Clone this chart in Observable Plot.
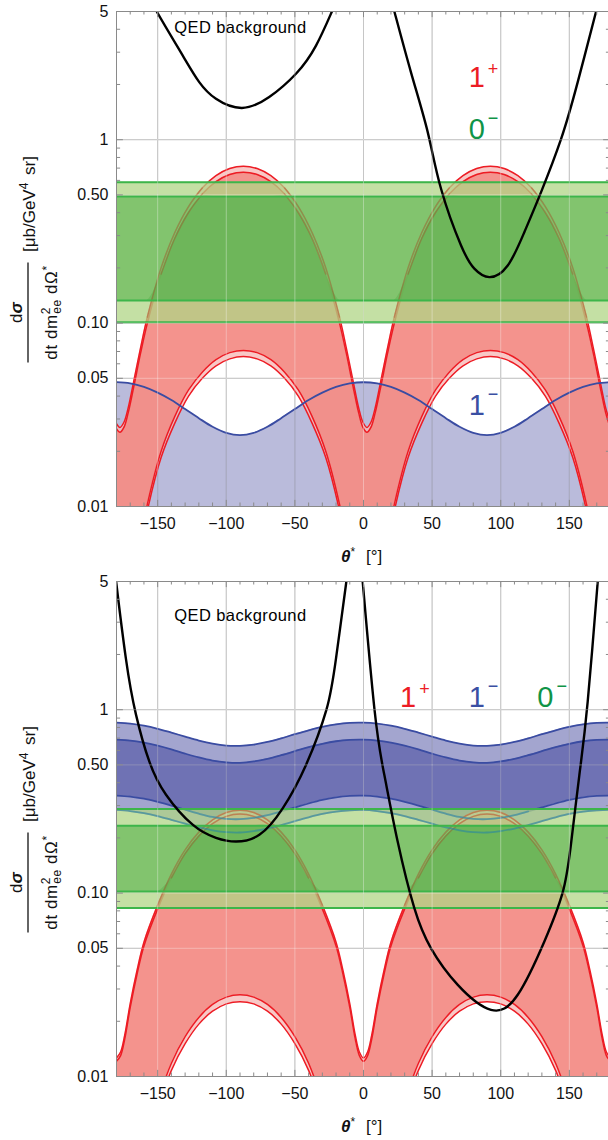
<!DOCTYPE html>
<html><head><meta charset="utf-8">
<script src="https://cdn.jsdelivr.net/npm/d3@7"></script>
<script src="https://cdn.jsdelivr.net/npm/@observablehq/plot@0.6"></script>
<style>html,body{margin:0;padding:0;background:#fff;width:608px;overflow:hidden} svg{display:block}</style>
</head><body><div id="chart"></div>
<script>
const FONT = "'Liberation Sans', Arial, Helvetica, sans-serif";
const X_DOMAIN = [-180, 180];
const Y_DOMAIN = [0.01, 5];
const xGrid = [-150, -100, -50, 0, 50, 100, 150];
const yGrid = [0.05, 0.1, 0.5, 1];
const yTicks = [0.01, 0.05, 0.1, 0.5, 1, 5];
const yTickLabels = ["0.01", "0.05", "0.10", "0.50", "1", "5"];
const yMinor = [0.02, 0.03, 0.04, 0.06, 0.07, 0.08, 0.09, 0.2, 0.3, 0.4, 0.6, 0.7, 0.8, 0.9, 2, 3, 4];
const xMinor = [-170,-160,-140,-130,-120,-110,-90,-80,-70,-60,-40,-30,-20,-10,10,20,30,40,60,70,80,90,110,120,130,140,160,170];

// ---------- Panel 1 (top) ----------
const theta1 = [-180,-177.5,-174.5,-171.5,-167.5,-162.5,-157.5,-147.5,-137.5,-127.5,-117.5,-107.5,-97.5,-87.5,-77.5,-67.5,-57.5,-47.5,-37.5,-27.5,-17.5,-12.5,-7.5,-3.5,-0.5,2.5,5.5,8.5,12.5,17.5,22.5,32.5,42.5,52.5,62.5,72.5,82.5,92.5,102.5,112.5,122.5,132.5,142.5,152.5,162.5,167.5,172.5,176.5,180];
const red1UpperOuter = [0.0283,0.027,0.0289,0.0345,0.048,0.073,0.108,0.2,0.312,0.432,0.545,0.636,0.696,0.717,0.696,0.636,0.545,0.432,0.312,0.2,0.108,0.073,0.048,0.0345,0.0289,0.027,0.0289,0.0345,0.048,0.073,0.108,0.2,0.312,0.432,0.545,0.636,0.696,0.717,0.696,0.636,0.545,0.432,0.312,0.2,0.108,0.073,0.048,0.0345,0.0283];
const red1UpperInner = [0.0266,0.0254,0.0271,0.0324,0.0447,0.0683,0.1,0.185,0.29,0.401,0.505,0.59,0.646,0.665,0.646,0.59,0.505,0.401,0.29,0.185,0.1,0.0683,0.0447,0.0324,0.0271,0.0254,0.0271,0.0324,0.0447,0.0683,0.1,0.185,0.29,0.401,0.505,0.59,0.646,0.665,0.646,0.59,0.505,0.401,0.29,0.185,0.1,0.0683,0.0447,0.0324,0.0266];
const red1LowerOuter = [0.0011,0.0006,0.0012,0.002,0.0033,0.006,0.0095,0.0185,0.0285,0.04,0.05,0.0585,0.0638,0.0657,0.0638,0.0585,0.05,0.04,0.0285,0.0185,0.0095,0.006,0.0033,0.002,0.0012,0.0006,0.0012,0.002,0.0033,0.006,0.0095,0.0185,0.0285,0.04,0.05,0.0585,0.0638,0.0657,0.0638,0.0585,0.05,0.04,0.0285,0.0185,0.0095,0.006,0.0033,0.002,0.0011];
const red1LowerInner = [0.0012,0.0007,0.0013,0.0022,0.0036,0.0066,0.0103,0.02,0.031,0.0432,0.054,0.0632,0.069,0.071,0.069,0.0632,0.054,0.0432,0.031,0.02,0.0103,0.0066,0.0036,0.0022,0.0013,0.0007,0.0013,0.0022,0.0036,0.0066,0.0103,0.02,0.031,0.0432,0.054,0.0632,0.069,0.071,0.069,0.0632,0.054,0.0432,0.031,0.02,0.0103,0.0066,0.0036,0.0022,0.0012];
const thetaB = [-180,-170,-160,-150,-140,-130,-120,-110,-100,-90,-80,-70,-60,-50,-40,-30,-20,-10,0,10,20,30,40,50,60,70,80,90,100,110,120,130,140,150,160,170,180];
const blue1 = [0.0476,0.0469,0.0449,0.0418,0.0381,0.034,0.0303,0.0272,0.0252,0.0245,0.0252,0.0272,0.0303,0.034,0.0381,0.0418,0.0449,0.0469,0.0476,0.0469,0.0449,0.0418,0.0381,0.034,0.0303,0.0272,0.0252,0.0245,0.0252,0.0272,0.0303,0.034,0.0381,0.0418,0.0449,0.0469,0.0476];
const green1 = [0.101, 0.133, 0.49, 0.586];
const qed1LeftTheta = [-155,-150.7,-131.8,-119.7,-107.5,-88.6,-68.7,-49.2,-34.6,-23,-19];
const qed1LeftValue = [5.9,5,2.88,2.06,1.67,1.49,1.71,2.29,3.26,5,5.8];
const qed1RightTheta = [18,22.5,34.6,46.8,56.5,71.1,80.8,91.7,105.1,117.2,129.4,144,156.1,169.5,173];
const qed1RightValue = [6.6,5,2.33,1.1,0.54,0.265,0.198,0.178,0.206,0.313,0.518,1.01,2.06,5,6.3];

// ---------- Panel 2 (bottom) ----------
const theta2 = [-180,-177,-174,-170,-165,-160,-150,-140,-130,-120,-110,-100,-90,-80,-70,-60,-50,-40,-30,-20,-15,-10,-6,-3,0,3,6,10,15,20,30,40,50,60,70,80,90,100,110,120,130,140,150,160,165,170,174,177,180];
const red2UpperOuter = [0.0126,0.0136,0.0168,0.025,0.038,0.054,0.086,0.127,0.172,0.215,0.251,0.275,0.283,0.275,0.251,0.215,0.172,0.127,0.086,0.054,0.038,0.025,0.0168,0.0136,0.0126,0.0136,0.0168,0.025,0.038,0.054,0.086,0.127,0.172,0.215,0.251,0.275,0.283,0.275,0.251,0.215,0.172,0.127,0.086,0.054,0.038,0.025,0.0168,0.0136,0.0126];
const red2UpperInner = [0.0121,0.013,0.016,0.0238,0.0362,0.0515,0.082,0.121,0.164,0.205,0.239,0.262,0.27,0.262,0.239,0.205,0.164,0.121,0.082,0.0515,0.0362,0.0238,0.016,0.013,0.0121,0.013,0.016,0.0238,0.0362,0.0515,0.082,0.121,0.164,0.205,0.239,0.262,0.27,0.262,0.239,0.205,0.164,0.121,0.082,0.0515,0.0362,0.0238,0.016,0.013,0.0121];
const red2LowerOuter = [0.0002,0.0003,0.0005,0.0008,0.0018,0.0031,0.0066,0.0108,0.0151,0.0193,0.0227,0.0249,0.0256,0.0249,0.0227,0.0193,0.0151,0.0108,0.0066,0.0031,0.0018,0.0008,0.0005,0.0003,0.0002,0.0003,0.0005,0.0008,0.0018,0.0031,0.0066,0.0108,0.0151,0.0193,0.0227,0.0249,0.0256,0.0249,0.0227,0.0193,0.0151,0.0108,0.0066,0.0031,0.0018,0.0008,0.0005,0.0003,0.0002];
const red2LowerInner = [0.0002,0.0003,0.0005,0.0009,0.002,0.0034,0.0072,0.0118,0.0165,0.021,0.0247,0.0271,0.0279,0.0271,0.0247,0.021,0.0165,0.0118,0.0072,0.0034,0.002,0.0009,0.0005,0.0003,0.0002,0.0003,0.0005,0.0009,0.002,0.0034,0.0072,0.0118,0.0165,0.021,0.0247,0.0271,0.0279,0.0271,0.0247,0.021,0.0165,0.0118,0.0072,0.0034,0.002,0.0009,0.0005,0.0003,0.0002];
const blue2Line1 = [0.85,0.84,0.818,0.787,0.75,0.713,0.679,0.653,0.637,0.635,0.645,0.667,0.698,0.735,0.772,0.806,0.832,0.848,0.85,0.84,0.818,0.787,0.75,0.713,0.679,0.653,0.637,0.635,0.645,0.667,0.698,0.735,0.772,0.806,0.832,0.848,0.85];
const blue2Line2 = [0.687,0.679,0.661,0.636,0.607,0.576,0.549,0.528,0.516,0.513,0.522,0.54,0.565,0.594,0.625,0.652,0.673,0.685,0.687,0.679,0.661,0.636,0.607,0.576,0.549,0.528,0.516,0.513,0.522,0.54,0.565,0.594,0.625,0.652,0.673,0.685,0.687];
const blue2Line3 = [0.34,0.336,0.327,0.314,0.3,0.285,0.271,0.26,0.254,0.253,0.257,0.266,0.279,0.293,0.308,0.322,0.333,0.339,0.34,0.336,0.327,0.314,0.3,0.285,0.271,0.26,0.254,0.253,0.257,0.266,0.279,0.293,0.308,0.322,0.333,0.339,0.34];
const blue2Line4 = [0.284,0.28,0.273,0.263,0.251,0.239,0.228,0.22,0.215,0.214,0.218,0.225,0.235,0.247,0.259,0.27,0.278,0.283,0.284,0.28,0.273,0.263,0.251,0.239,0.228,0.22,0.215,0.214,0.218,0.225,0.235,0.247,0.259,0.27,0.278,0.283,0.284];
const green2 = [0.083, 0.102, 0.233, 0.287];
const qed2LeftTheta = [-181,-180,-173.2,-165.8,-156.1,-143.9,-124.5,-107.5,-92.9,-75.9,-58.9,-41.9,-27,-20,-12.8,-12];
const qed2LeftValue = [5.6,4.8,1.91,0.94,0.522,0.344,0.236,0.2,0.191,0.208,0.29,0.5,1.0,1.91,4.8,5.5];
const qed2RightTheta = [-1.5,-0.6,7.9,15.2,24.9,37,49.2,68.7,92.9,112.4,131.8,145,151,157.3,163.4,170.7,171.5];
const qed2RightValue = [5.8,5,1.02,0.44,0.191,0.083,0.05,0.0316,0.0231,0.0279,0.0545,0.1,0.18,0.44,1.11,5,5.7];

// ---------- Labels ----------
const qedLabel = "QED background";
const panel1Labels = [
  {main: "1", sup: "+", color: "#ec1c24", t: 77, v: 1.93},
  {main: "0", sup: "\u2212", color: "#0f9447", t: 77, v: 1.0},
  {main: "1", sup: "\u2212", color: "#3a4fa3", t: 77, v: 0.0313}
];
const panel2Labels = [
  {main: "1", sup: "+", color: "#ec1c24", t: 27, v: 1.03},
  {main: "1", sup: "\u2212", color: "#3a4fa3", t: 77, v: 1.03},
  {main: "0", sup: "\u2212", color: "#0f9447", t: 127, v: 1.03}
];

const RED_LINE = "#ed1c24", RED_OUT = "#f6bab8", RED_IN = "#f3867e";
const BLUE = "#2e3192", BLUE_LINE = "#3a4ca2";
const GREEN_OUT = "#b0d686", GREEN_IN = "#6fbc5f", GREEN_DEEP = "#2f9a2a", GREEN_LINE = "#3db54a";
const GRID = "#a8a8a8", FRAME = "#8a8a8a";

function buildPanel(p) {
  const curve = "catmull-rom";
  const g = p.green;
  const inGreen = v => (v >= g[0] && v <= g[3]) ? v : NaN;
  const red = p.theta.map((t, i) => ({t, uo: p.uo[i], ui: p.ui[i], lo: p.lo[i], li: p.li[i]}));
  // overlap of the inner 1+ band with the inner 0- band (shown darker green)
  const overlap = red.map(d => {
    const a = Math.max(d.li, g[1]), b = Math.min(d.ui, g[2]);
    return {t: d.t, a, b: Math.max(a, b)};
  });
  const blue = thetaB.map((t, i) => { const o = {t}; p.blue.forEach((arr, k) => o["b" + k] = arr[i]); return o; });
  const marks = [];
  marks.push(Plot.ruleX(xGrid, {stroke: GRID, strokeWidth: 1}));
  marks.push(Plot.ruleY(yGrid, {stroke: GRID, strokeWidth: 1}));
  if (p.blue.length === 1) {
    marks.push(Plot.areaY(blue, {x: "t", y1: Y_DOMAIN[0], y2: "b0", fill: BLUE, fillOpacity: 0.33, curve, clip: true}));
  } else {
    marks.push(Plot.areaY(blue, {x: "t", y1: "b3", y2: "b0", fill: BLUE, fillOpacity: 0.44, curve, clip: true}));
    marks.push(Plot.areaY(blue, {x: "t", y1: "b2", y2: "b1", fill: BLUE, fillOpacity: 0.44, curve, clip: true}));
  }
  marks.push(Plot.areaY(red, {x: "t", y1: "lo", y2: "uo", fill: RED_OUT, fillOpacity: 0.8, curve, clip: true}));
  marks.push(Plot.areaY(red, {x: "t", y1: "li", y2: "ui", fill: RED_IN, fillOpacity: 0.8, curve, clip: true}));
  for (const k of ["uo", "ui", "lo", "li"]) marks.push(Plot.lineY(red, {x: "t", y: k, stroke: RED_LINE, strokeWidth: 1.5, curve, clip: true}));
  p.blue.forEach((_, k) => marks.push(Plot.lineY(blue, {x: "t", y: "b" + k, stroke: BLUE_LINE, strokeWidth: 1.8, curve, clip: true})));
  marks.push(Plot.areaY(X_DOMAIN, {x: d => d, y1: g[0], y2: g[3], fill: GREEN_OUT, fillOpacity: 0.75}));
  marks.push(Plot.areaY(X_DOMAIN, {x: d => d, y1: g[1], y2: g[2], fill: GREEN_IN, fillOpacity: 0.78}));
  marks.push(Plot.areaY(overlap, {x: "t", y1: "a", y2: "b", fill: GREEN_DEEP, fillOpacity: 0.22, curve, clip: true}));
  // faint traces of the curves seen through the green band
  for (const k of ["uo", "ui"]) marks.push(Plot.lineY(red, {x: "t", y: d => inGreen(d[k]), stroke: "#b0301c", strokeOpacity: 0.3, strokeWidth: 1.5, curve, clip: true}));
  p.blue.forEach((_, k) => marks.push(Plot.lineY(blue, {x: "t", y: d => inGreen(d["b" + k]), stroke: "#1f7fb0", strokeOpacity: 0.5, strokeWidth: 1.8, curve, clip: true})));
  marks.push(Plot.ruleY(g, {stroke: GREEN_LINE, strokeWidth: 2}));
  p.qed.forEach(seg => marks.push(Plot.line(seg.t.map((t, i) => [t, seg.v[i]]), {stroke: "black", strokeWidth: 2.4, curve: "natural", clip: true})));
  marks.push(Plot.ruleX(xGrid, {stroke: "white", strokeOpacity: 0.35, strokeWidth: 1}));
  marks.push(Plot.ruleY(yGrid, {stroke: "white", strokeOpacity: 0.35, strokeWidth: 1}));
  marks.push(Plot.frame({stroke: FRAME, strokeWidth: 1}));
  // inward ticks
  const TXM = 1.08, TXm = 1.045, TYM = 5, TYm = 3;
  marks.push(Plot.ruleX(xGrid, {x: d => d, y1: Y_DOMAIN[0], y2: Y_DOMAIN[0] * TXM, stroke: FRAME}));
  marks.push(Plot.ruleX(xMinor, {x: d => d, y1: Y_DOMAIN[0], y2: Y_DOMAIN[0] * TXm, stroke: FRAME}));
  marks.push(Plot.ruleX(xGrid, {x: d => d, y1: Y_DOMAIN[1], y2: Y_DOMAIN[1] / TXM, stroke: FRAME}));
  marks.push(Plot.ruleX(xMinor, {x: d => d, y1: Y_DOMAIN[1], y2: Y_DOMAIN[1] / TXm, stroke: FRAME}));
  marks.push(Plot.ruleY(yTicks, {y: d => d, x1: X_DOMAIN[0], x2: X_DOMAIN[0] + TYM, stroke: FRAME}));
  marks.push(Plot.ruleY(yMinor, {y: d => d, x1: X_DOMAIN[0], x2: X_DOMAIN[0] + TYm, stroke: FRAME}));
  marks.push(Plot.ruleY(yTicks, {y: d => d, x1: X_DOMAIN[1], x2: X_DOMAIN[1] - TYM, stroke: FRAME}));
  marks.push(Plot.ruleY(yMinor, {y: d => d, x1: X_DOMAIN[1], x2: X_DOMAIN[1] - TYm, stroke: FRAME}));
  marks.push(Plot.axisX(xGrid, {tickSize: 0, tickPadding: 11, label: null, fontSize: 16, tickFormat: d => d < 0 ? "\u2212" + Math.abs(d) : String(d)}));
  marks.push(Plot.axisY(yTicks, {tickSize: 0, tickPadding: 8, label: null, fontSize: 16, tickFormat: d => yTickLabels[yTicks.indexOf(d)]}));

  const svg = Plot.plot({
    width: 608, height: 570,
    marginTop: 11, marginBottom: 64, marginLeft: 116, marginRight: -2,
    style: {fontFamily: FONT, fontSize: "16px", color: "#111", background: "white"},
    x: {domain: X_DOMAIN},
    y: {type: "log", domain: Y_DOMAIN},
    marks
  });

  const sx = svg.scale("x"), sy = svg.scale("y");
  const s = d3.select(svg);
  s.append("text").attr("x", sx.apply(-137.5)).attr("y", sy.apply(p.qedY)).attr("text-anchor", "start")
    .attr("font-family", FONT).attr("font-size", 16.5).attr("letter-spacing", 0.4).attr("fill", "#000").text(qedLabel);
  p.labels.forEach(l => {
    const t = s.append("text").attr("x", sx.apply(l.t)).attr("y", sy.apply(l.v)).attr("text-anchor", "start")
      .attr("font-family", FONT).attr("font-size", 29).attr("fill", l.color);
    t.append("tspan").text(l.main);
    t.append("tspan").attr("font-size", 18).attr("dx", 3).attr("dy", l.sup === "+" ? -12 : -15).text(l.sup);
  });
  // y-axis label
  const g1 = s.append("g").attr("transform", "translate(0,312.5) rotate(-90)")
    .attr("font-family", FONT).attr("fill", "#111");
  const num = g1.append("text").attr("x", 0).attr("y", 22).attr("text-anchor", "middle").attr("font-size", 17);
  num.append("tspan").text("d");
  num.append("tspan").attr("font-style", "italic").attr("font-weight", "bold").text("\u03c3");
  g1.append("line").attr("x1", -50).attr("x2", 50).attr("y1", 28).attr("y2", 28).attr("stroke", "#111").attr("stroke-width", 1.3);
  const den = g1.append("text").attr("x", 0).attr("y", 57).attr("text-anchor", "middle").attr("font-size", 17).attr("letter-spacing", 0.6);
  den.append("tspan").text("dt dm");
  den.append("tspan").attr("font-size", 12).attr("dy", -7).text("2");
  den.append("tspan").attr("font-size", 12).attr("dx", -7).attr("dy", 11).text("ee");
  den.append("tspan").attr("dy", -4).text(" d\u03a9");
  den.append("tspan").attr("font-size", 12).attr("dy", -6).text("*");
  const g2 = s.append("g").attr("transform", "translate(0,204) rotate(-90)")
    .attr("font-family", FONT).attr("fill", "#111");
  const un = g2.append("text").attr("x", 0).attr("y", 35).attr("text-anchor", "middle").attr("font-size", 17);
  un.append("tspan").text("[\u03bcb/GeV");
  un.append("tspan").attr("font-size", 12).attr("dy", -7).text("4");
  un.append("tspan").attr("dy", 7).attr("dx", 3).text(" sr]");
  // x-axis title
  const xt = s.append("text").attr("x", 341).attr("y", 561.5).attr("text-anchor", "start").attr("font-family", FONT).attr("font-size", 17).attr("fill", "#111");
  xt.append("tspan").attr("font-style", "italic").attr("font-weight", "bold").text("\u03b8");
  xt.append("tspan").attr("font-size", 12).attr("dy", -6).text("*");
  xt.append("tspan").attr("x", 366).attr("dy", 6).text("[\u00b0]");
  return svg;
}

const chart = document.getElementById("chart");
chart.appendChild(buildPanel({
  theta: theta1, uo: red1UpperOuter, ui: red1UpperInner, lo: red1LowerOuter, li: red1LowerInner,
  blue: [blue1], green: green1,
  qed: [{t: qed1LeftTheta, v: qed1LeftValue}, {t: qed1RightTheta, v: qed1RightValue}],
  qedY: 3.78, labels: panel1Labels
}));
chart.appendChild(buildPanel({
  theta: theta2, uo: red2UpperOuter, ui: red2UpperInner, lo: red2LowerOuter, li: red2LowerInner,
  blue: [blue2Line1, blue2Line2, blue2Line3, blue2Line4], green: green2,
  qed: [{t: qed2LeftTheta, v: qed2LeftValue}, {t: qed2RightTheta, v: qed2RightValue}],
  qedY: 3.04, labels: panel2Labels
}));
</script></body></html>
